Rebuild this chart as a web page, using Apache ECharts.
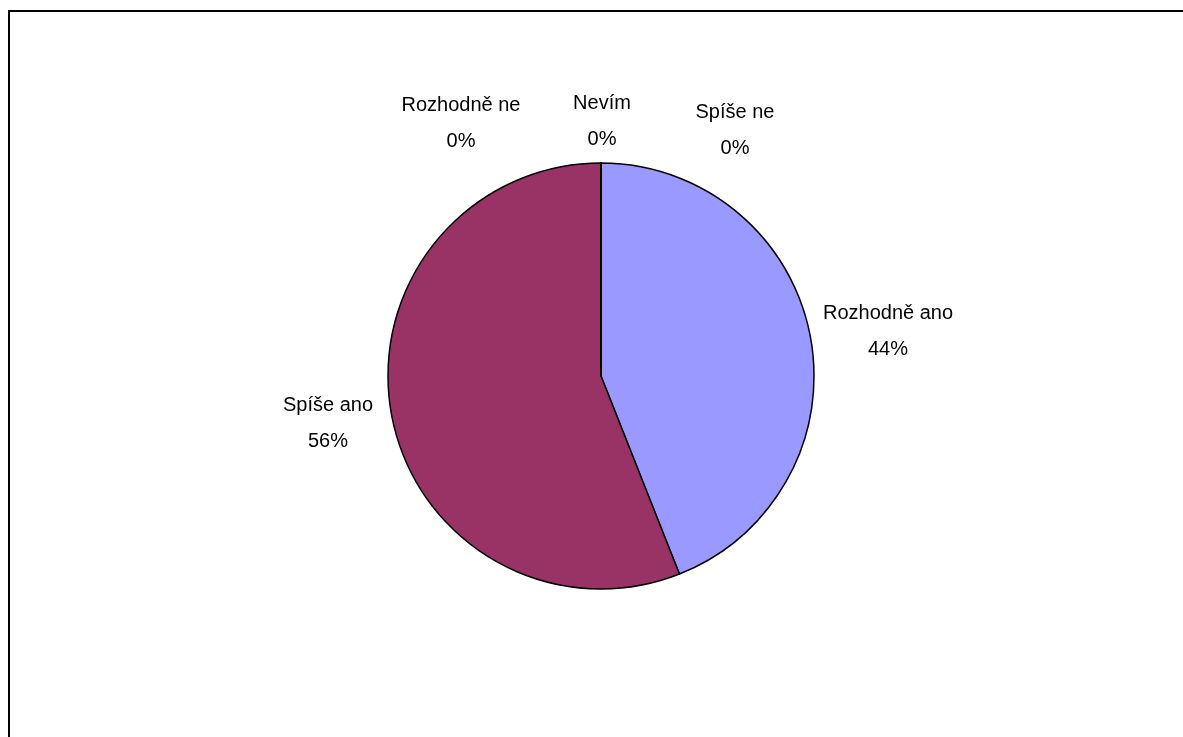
<!DOCTYPE html>
<html>
<head>
<meta charset="utf-8">
<script src="https://cdn.jsdelivr.net/npm/echarts@6/dist/echarts.min.js"></script>
<style>
  html, body { margin: 0; padding: 0; background: #ffffff; }
  #chart { width: 1183px; height: 737px; }
</style>
</head>
<body>
<div id="chart"></div>
<script>
// Survey answers and their shares (percent)
const categories = ['Rozhodně ano', 'Spíše ano', 'Spíše ne', 'Rozhodně ne', 'Nevím'];
const values = [44, 56, 0, 0, 0];
const colors = ['#9999FF', '#993366', '#FFFFCC', '#CCFFFF', '#660066'];

// Label anchor points (centre of each two-line label)
const labelSpots = [
  [888, 331],
  [328, 423],
  [735, 130],
  [461, 123],
  [602, 121]
];

const chart = echarts.init(document.getElementById('chart'), null, { renderer: 'canvas' });

chart.setOption({
  backgroundColor: '#ffffff',
  animation: false,
  graphic: [{
    type: 'rect',
    shape: { x: 9, y: 11, width: 1300, height: 900 },
    style: { fill: 'none', stroke: '#000000', lineWidth: 2 },
    silent: true,
    z: -1
  }],
  series: [{
    type: 'pie',
    center: [601, 376],
    radius: 213,
    startAngle: 90,
    clockwise: true,
    avoidLabelOverlap: false,
    minShowLabelAngle: 0,
    data: categories.map((name, i) => ({
      name: name,
      value: values[i],
      itemStyle: { color: colors[i] }
    })),
    itemStyle: { borderColor: '#000000', borderWidth: 1.5 },
    emphasis: { disabled: true },
    label: {
      show: true,
      position: 'outside',
      formatter: '{b}\n{d}%',
      fontFamily: 'Liberation Sans, Arial, sans-serif',
      fontSize: 20,
      lineHeight: 36,
      color: '#000000',
      align: 'center'
    },
    labelLine: { show: false },
    labelLayout: function (params) {
      const p = labelSpots[params.dataIndex];
      return { x: p[0], y: p[1], align: 'center', verticalAlign: 'middle' };
    }
  }]
});
</script>
</body>
</html>
